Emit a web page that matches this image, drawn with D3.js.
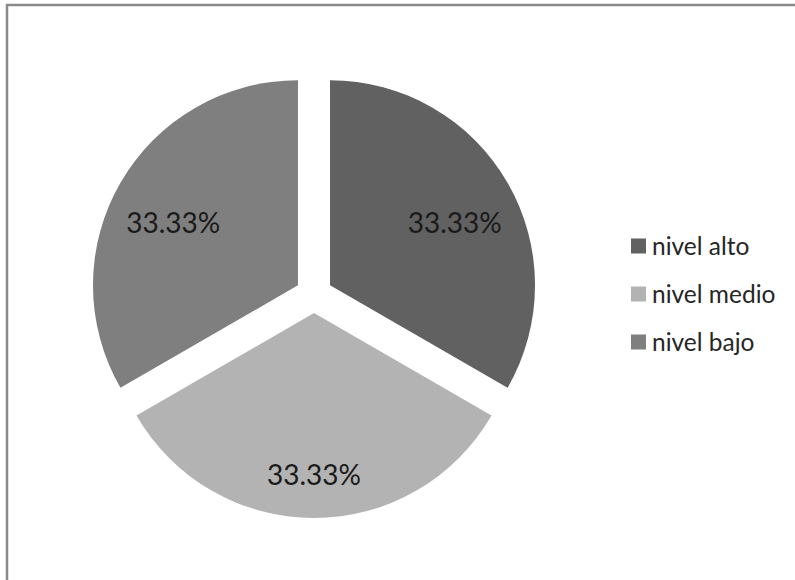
<!DOCTYPE html>
<html>
<head>
<meta charset="utf-8">
<script src="https://cdn.jsdelivr.net/npm/d3@7"></script>
<style>
  html, body { margin: 0; padding: 0; background: #fff; }
  svg { display: block; }
</style>
</head>
<body>
<svg id="chart" width="795" height="580"></svg>
<script>
// Categories, their shares and the legend colours
const categories = ["nivel alto", "nivel medio", "nivel bajo"];
const shares = [33.33, 33.33, 33.33];
const colors = ["#616161", "#b3b3b3", "#7f7f7f"];

const svg = d3.select("#chart");

// Chart frame
svg.append("rect")
  .attr("x", 7).attr("y", 5)
  .attr("width", 820).attr("height", 620)
  .attr("fill", "#fff")
  .attr("stroke", "#8a8a8a")
  .attr("stroke-width", 2.5);

const cx = 314, cy = 294.5, radius = 205, explode = 18.5;

const pie = d3.pie().sort(null).startAngle(0).endAngle(2 * Math.PI);
const arcs = pie(shares);
const arc = d3.arc().innerRadius(0).outerRadius(radius);

// Label placement: distance from the centre and a small angular nudge per slice
const labelLayout = [
  { dist: 158, nudge: 3 },
  { dist: 180.5, nudge: 0 },
  { dist: 158, nudge: -3 }
];

const g = svg.append("g").attr("transform", `translate(${cx},${cy})`);

const slices = g.selectAll("g.slice")
  .data(arcs)
  .join("g")
  .attr("class", "slice");

slices.append("path")
  .attr("d", arc)
  .attr("fill", (d, i) => colors[i])
  .attr("transform", d => {
    const a = (d.startAngle + d.endAngle) / 2;
    return `translate(${explode * Math.sin(a)},${-explode * Math.cos(a)})`;
  });

slices.append("text")
  .attr("x", (d, i) => {
    const a = (d.startAngle + d.endAngle) / 2 + labelLayout[i].nudge * Math.PI / 180;
    return labelLayout[i].dist * Math.sin(a);
  })
  .attr("y", (d, i) => {
    const a = (d.startAngle + d.endAngle) / 2 + labelLayout[i].nudge * Math.PI / 180;
    return -labelLayout[i].dist * Math.cos(a);
  })
  .attr("dy", "0.36em")
  .attr("text-anchor", "middle")
  .attr("font-family", "Lato, 'Open Sans', sans-serif")
  .attr("font-size", 28)
  .attr("fill", "#1a1a1a")
  .text(d => d.data.toFixed(2) + "%");

// Legend
const legend = svg.append("g").attr("transform", "translate(631,246)");
const rows = legend.selectAll("g")
  .data(categories)
  .join("g")
  .attr("transform", (d, i) => `translate(0,${i * 48})`);

rows.append("rect")
  .attr("x", 0).attr("y", -7.5)
  .attr("width", 15).attr("height", 15)
  .attr("fill", (d, i) => colors[i]);

rows.append("text")
  .attr("x", 21)
  .attr("dy", "0.36em")
  .attr("font-family", "Lato, 'Open Sans', sans-serif")
  .attr("font-size", 24.5)
  .attr("fill", "#262626")
  .text(d => d);
</script>
</body>
</html>
